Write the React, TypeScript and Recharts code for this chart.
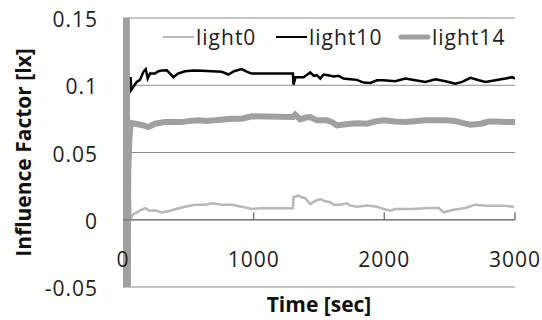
import React from 'react';
import { LineChart, Line, XAxis, YAxis, CartesianGrid, ReferenceLine, Legend } from 'recharts';

// time [sec] and influence factor [lx]
const light0Time = [54, 56, 79, 130, 169, 207, 245, 296, 360, 398, 475, 552, 628, 680, 756, 833, 909, 986, 1050, 1300, 1305, 1344, 1369, 1395, 1433, 1471, 1510, 1548, 1586, 1612, 1663, 1714, 1739, 1791, 1867, 1944, 1995, 2046, 2084, 2212, 2340, 2416, 2455, 2519, 2621, 2697, 2774, 2902, 2991];
const light0Values = [0.0142, 0.0007, 0.0042, 0.0067, 0.0087, 0.0067, 0.007, 0.0055, 0.0067, 0.0078, 0.0097, 0.0112, 0.0112, 0.0122, 0.0112, 0.0112, 0.0097, 0.008, 0.0085, 0.0085, 0.0167, 0.0179, 0.0167, 0.016, 0.0117, 0.014, 0.0154, 0.0137, 0.013, 0.0112, 0.0112, 0.0122, 0.0105, 0.0097, 0.0105, 0.0097, 0.008, 0.0067, 0.008, 0.008, 0.0087, 0.0087, 0.0055, 0.0072, 0.0087, 0.0112, 0.0105, 0.0105, 0.0097];

const light10Time = [54, 58, 63, 105, 130, 156, 174, 189, 207, 245, 271, 300, 335, 360, 386, 420, 475, 540, 603, 680, 756, 807, 850, 909, 950, 986, 1300, 1305, 1320, 1382, 1433, 1460, 1484, 1510, 1535, 1570, 1612, 1650, 1688, 1739, 1790, 1841, 1893, 1944, 1995, 2084, 2161, 2238, 2314, 2391, 2467, 2544, 2595, 2659, 2723, 2774, 2851, 2927, 2978, 3000];
const light10Values = [0.0975, 0.106, 0.0965, 0.1025, 0.104, 0.11, 0.112, 0.105, 0.1087, 0.1087, 0.1104, 0.111, 0.1112, 0.1087, 0.106, 0.1087, 0.1104, 0.111, 0.1107, 0.1104, 0.11, 0.108, 0.1104, 0.112, 0.11, 0.1087, 0.1087, 0.1005, 0.106, 0.106, 0.1095, 0.107, 0.1075, 0.105, 0.108, 0.1075, 0.1065, 0.107, 0.105, 0.1045, 0.104, 0.102, 0.1017, 0.1037, 0.1037, 0.103, 0.105, 0.1037, 0.1025, 0.1045, 0.103, 0.1012, 0.1025, 0.1055, 0.1037, 0.1025, 0.1037, 0.105, 0.106, 0.105];

const light14Time = [18, 23, 28, 33, 40, 50, 60, 92, 143, 194, 245, 322, 390, 450, 510, 577, 640, 705, 770, 833, 909, 986, 1300, 1318, 1356, 1400, 1433, 1484, 1561, 1600, 1637, 1690, 1739, 1800, 1867, 1930, 1995, 2080, 2161, 2250, 2314, 2391, 2467, 2540, 2595, 2659, 2740, 2800, 2851, 2930, 3000];
const light14Values = [0.3, -0.2, 0.3, -0.2, 0.035, 0.062, 0.072, 0.0714, 0.0705, 0.0689, 0.0714, 0.0726, 0.0726, 0.0726, 0.0735, 0.0739, 0.0735, 0.0739, 0.0745, 0.0751, 0.0751, 0.0769, 0.0764, 0.0781, 0.0746, 0.076, 0.0764, 0.0739, 0.0739, 0.0725, 0.0701, 0.0708, 0.0714, 0.0718, 0.0714, 0.073, 0.0739, 0.073, 0.0726, 0.0735, 0.0739, 0.0739, 0.0739, 0.0735, 0.072, 0.0706, 0.0714, 0.073, 0.073, 0.0726, 0.0726];

const timeTicks = [0, 1000, 2000, 3000];
const valueTicks = [-0.05, 0, 0.05, 0.1, 0.15];

const toPoints = (times: number[], values: number[]) => times.map((t, i) => ({ t, v: values[i] }));

const series = [
  { name: 'light0', data: toPoints(light0Time, light0Values), color: '#b8b8b8', width: 2.5, keyWidth: 2, itemWidth: 113 },
  { name: 'light10', data: toPoints(light10Time, light10Values), color: '#000000', width: 2.5, keyWidth: 2, itemWidth: 123 },
  { name: 'light14', data: toPoints(light14Time, light14Values), color: '#a0a0a0', width: 6, keyWidth: 5, itemWidth: 112 },
];

const FONT = '"Open Sans", sans-serif';
const tickStyle = { fontFamily: FONT, fontSize: 21, letterSpacing: 1, fill: '#1e1e1e' };
const gridColor = '#8c8c8c';
const axisColor = '#7a7a7a';

const YTick = ({ x, y, payload }: any) => (
  <text x={x} y={y} dy={9} textAnchor="end" style={tickStyle}>{String(payload.value)}</text>
);

const XTick = ({ x, y, payload }: any) => (
  <text x={x} y={y - 20} textAnchor="middle" style={tickStyle}>{String(payload.value)}</text>
);

const YTitle = ({ viewBox }: any) => {
  const cx = 31;
  const cy = viewBox.y + viewBox.height / 2;
  return (
    <text x={cx} y={cy} textAnchor="middle" transform={`rotate(-90, ${cx}, ${cy})`}
      style={{ fontFamily: FONT, fontSize: 21, fontWeight: 700, fill: '#111' }}>
      Influence Factor [lx]
    </text>
  );
};

const XTitle = ({ viewBox }: any) => (
  <text x={viewBox.x + viewBox.width / 2} y={viewBox.y + 25} textAnchor="middle"
    style={{ fontFamily: FONT, fontSize: 21, fontWeight: 700, fill: '#111' }}>
    Time [sec]
  </text>
);

const LegendBox = () => (
  <div style={{ display: 'flex', alignItems: 'center', fontFamily: FONT, fontSize: 21, letterSpacing: 1, color: '#1e1e1e', lineHeight: '28px' }}>
    {series.map((s) => (
      <div key={s.name} style={{ display: 'flex', alignItems: 'center', width: s.itemWidth, flex: 'none' }}>
        <svg width={33} height={10} style={{ marginRight: 1, flex: 'none' }}>
          <line x1={s.keyWidth > 3 ? 3 : 1} y1={5} x2={s.keyWidth > 3 ? 30 : 32} y2={5} stroke={s.color}
            strokeWidth={s.keyWidth} strokeLinecap={s.keyWidth > 3 ? 'round' : 'butt'} />
        </svg>
        <span>{s.name}</span>
      </div>
    ))}
  </div>
);

export default function App() {
  return (
    <div style={{ position: 'absolute', left: 0, top: 0, background: '#fff' }}>
      <LineChart width={542} height={320} margin={{ top: 18, right: 27, bottom: 0, left: 0 }}>
        <CartesianGrid horizontal vertical={false} stroke={gridColor} strokeWidth={1} />
        <XAxis type="number" dataKey="t" domain={[0, 3000]} ticks={timeTicks} allowDataOverflow
          height={33} axisLine={false} tickLine={false} tickSize={0} tickMargin={0}
          tick={<XTick />} label={<XTitle />} />
        <YAxis type="number" domain={[-0.05, 0.15]} ticks={valueTicks} allowDataOverflow
          width={123} axisLine={false} tickLine={false} tickSize={0} tickMargin={25}
          tick={<YTick />} label={<YTitle />} />
        {series.map((s) => (
          <Line key={s.name} data={s.data} dataKey="v" name={s.name} type="linear" stroke={s.color}
            strokeWidth={s.width} dot={false} activeDot={false} isAnimationActive={false} />
        ))}
        <ReferenceLine segment={[{ x: 0, y: 0 }, { x: 3000, y: 0 }]} stroke={axisColor} strokeWidth={1.5} ifOverflow="visible" />
        {timeTicks.slice(1).map((t) => (
          <ReferenceLine key={t} segment={[{ x: t, y: 0 }, { x: t, y: 0.0055 }]} stroke={axisColor} strokeWidth={1.5} ifOverflow="visible" />
        ))}
        <Legend layout="horizontal" verticalAlign="middle" content={<LegendBox />}
          wrapperStyle={{ top: 23, left: 162, width: 360 }} />
      </LineChart>
    </div>
  );
}
